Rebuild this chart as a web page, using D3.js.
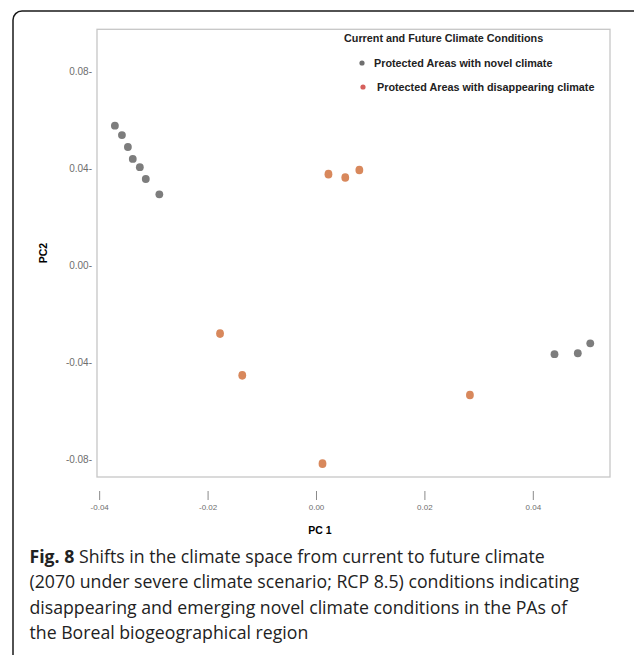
<!DOCTYPE html>
<html>
<head>
<meta charset="utf-8">
<script src="https://cdn.jsdelivr.net/npm/d3@7"></script>
<style>
  body { margin: 0; background: #fff; overflow: hidden; }
  svg { display: block; }
</style>
</head>
<body>
<script>
// PC scores
let novelPC1 = [-0.0371, -0.0358, -0.0347, -0.0338, -0.0325, -0.0314, -0.0289, 0.0440, 0.0483, 0.0506];
let novelPC2 = [0.0577, 0.0538, 0.0489, 0.0440, 0.0406, 0.0357, 0.0294, -0.0365, -0.0361, -0.0320];
let disPC1 = [0.0023, 0.0054, 0.0080, -0.0177, -0.0136, 0.0012, 0.0284];
let disPC2 = [0.0377, 0.0363, 0.0394, -0.0280, -0.0452, -0.0816, -0.0533];
let xTicks = [-0.04, -0.02, 0.00, 0.02, 0.04];
let yTicks = [0.08, 0.04, 0.00, -0.04, -0.08];
let legendTitle = "Current and Future Climate Conditions";
let legendLabels = ["Protected Areas with novel climate", "Protected Areas with disappearing climate"];

let width = 634;
let height = 655;
let svg = d3.select("body").append("svg")
  .attr("width", width)
  .attr("height", height);

// plain hyphen for negatives, like the original
let fmt = d3.formatLocale({ decimal: ".", thousands: ",", grouping: [3], currency: ["", ""], minus: "-" }).format(".2f");

// outer figure box (cut off at right and bottom)
svg.append("rect")
  .attr("x", 13).attr("y", 11)
  .attr("width", 800).attr("height", 700)
  .attr("rx", 9)
  .attr("fill", "none")
  .attr("stroke", "#1a1a1a")
  .attr("stroke-width", 1.5);

let plot = { left: 97, right: 610, top: 29.3, bottom: 477 };

let x = d3.scaleLinear().domain([-0.0404, 0.05424]).range([plot.left, plot.right]);
let y = d3.scaleLinear().domain([0.0974, -0.0871]).range([plot.top, plot.bottom]);

svg.append("rect")
  .attr("x", plot.left).attr("y", plot.top)
  .attr("width", plot.right - plot.left)
  .attr("height", plot.bottom - plot.top)
  .attr("fill", "none")
  .attr("stroke", "#c6c6c6")
  .attr("stroke-width", 1.3);

// y axis: labels with trailing dash
let yAxis = svg.append("g")
  .attr("transform", `translate(${plot.left},0)`)
  .call(d3.axisLeft(y).tickValues(yTicks).tickSize(0).tickPadding(5)
    .tickFormat(d => fmt(d) + "-"));
yAxis.select(".domain").remove();
yAxis.selectAll("text")
  .attr("fill", "#6e6e6e")
  .style("font-family", "Liberation Sans, Arial, sans-serif")
  .style("font-size", "10px");

// x axis: detached little ticks under the frame
let xAxis = svg.append("g")
  .attr("transform", "translate(0,491)")
  .call(d3.axisBottom(x).tickValues(xTicks).tickSize(9).tickPadding(4)
    .tickFormat(fmt));
xAxis.select(".domain").remove();
xAxis.selectAll("line").attr("stroke", "#8a8a8a");
xAxis.selectAll("text")
  .attr("fill", "#6e6e6e")
  .style("font-family", "Liberation Sans, Arial, sans-serif")
  .style("font-size", "8px");

svg.append("text")
  .attr("x", 320).attr("y", 534)
  .attr("text-anchor", "middle")
  .style("font-family", "Liberation Sans, Arial, sans-serif")
  .style("font-weight", "bold")
  .style("font-size", "10.5px")
  .text("PC 1");

svg.append("text")
  .attr("transform", "translate(47,253) rotate(-90)")
  .attr("text-anchor", "middle")
  .style("font-family", "Liberation Sans, Arial, sans-serif")
  .style("font-weight", "bold")
  .style("font-size", "10.5px")
  .text("PC2");

// points
let novel = novelPC1.map((d, i) => [d, novelPC2[i]]);
let disappearing = disPC1.map((d, i) => [d, disPC2[i]]);

svg.append("g").selectAll("circle")
  .data(novel)
  .enter()
  .append("circle")
  .attr("cx", d => x(d[0]))
  .attr("cy", d => y(d[1]))
  .attr("r", 3.9)
  .attr("fill", "#7d7d7d");

svg.append("g").selectAll("ellipse")
  .data(disappearing)
  .enter()
  .append("ellipse")
  .attr("cx", d => x(d[0]))
  .attr("cy", d => y(d[1]))
  .attr("rx", 3.9)
  .attr("ry", 4.3)
  .attr("fill", "#d8885c");

// legend
let legend = svg.append("g")
  .style("font-family", "Liberation Sans, Arial, sans-serif")
  .style("font-weight", "bold")
  .style("font-size", "10.8px")
  .attr("fill", "#222");

legend.append("text")
  .attr("x", 344).attr("y", 42)
  .text(legendTitle);

let legendColors = ["#6f6f6f", "#d6605c"];
let legendY = [63, 87];
let legendX = [362, 363];
legendLabels.forEach((label, i) => {
  legend.append("circle")
    .attr("cx", legendX[i]).attr("cy", legendY[i])
    .attr("r", 2.6)
    .attr("fill", legendColors[i]);
  legend.append("text")
    .attr("x", legendX[i] + 12 + i * 2).attr("y", legendY[i] + 3.8)
    .text(label);
});

// caption
let caption = svg.append("text")
  .style("font-family", "Open Sans, Noto Sans, sans-serif")
  .style("font-size", "17.7px")
  .attr("fill", "#222");

let captionLines = [
  "Shifts in the climate space from current to future climate",
  "(2070 under severe climate scenario; RCP 8.5) conditions indicating",
  "disappearing and emerging novel climate conditions in the PAs of",
  "the Boreal biogeographical region"
];
captionLines.forEach((line, i) => {
  let t = caption.append("tspan")
    .attr("x", 29.5)
    .attr("y", 563 + i * 25.3);
  if (i === 0) {
    t.append("tspan").style("font-weight", "bold").text("Fig. 8 ");
    caption.append("tspan").text(line);
  } else {
    t.text(line);
  }
});
</script>
</body>
</html>
